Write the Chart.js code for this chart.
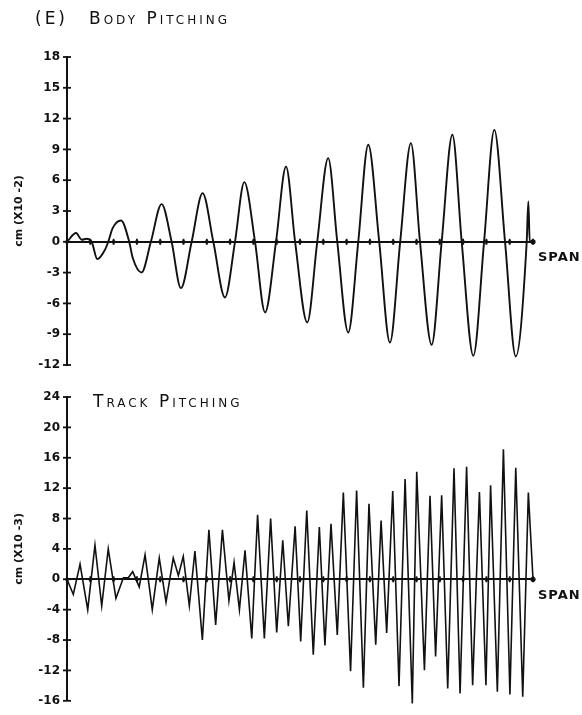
<!DOCTYPE html>
<html>
<head>
<meta charset="utf-8">
<script src="https://cdn.jsdelivr.net/npm/chart.js@4.4.1/dist/chart.umd.min.js"></script>
<style>
  html, body { margin: 0; padding: 0; background: #fff; }
  #wrap { position: relative; width: 582px; height: 715px; }
  canvas { position: absolute; left: 0; }
  #bodyChart { top: 0; }
  #trackChart { top: 380px; }
</style>
</head>
<body>
<div id="wrap">
  <canvas id="bodyChart" width="582" height="380"></canvas>
  <canvas id="trackChart" width="582" height="335"></canvas>
</div>
<script>
// span positions (x axis, 0..20) and tick values
const spanTicks = [0,1,2,3,4,5,6,7,8,9,10,11,12,13,14,15,16,17,18,19,20];
const bodyTicks = [18,15,12,9,6,3,0,-3,-6,-9,-12];
const trackTicks = [24,20,16,12,8,4,0,-4,-8,-12,-16];

// body pitching, cm (x10^-2)
const bodyX = [0,0.39,0.63,0.85,1.06,1.30,1.63,1.77,1.96,2.32,2.67,2.82,3.2,3.6,4.06,4.49,4.89,5.35,5.82,6.28,6.78,7.21,7.61,8.07,8.5,8.97,9.4,9.79,10.31,10.74,11.21,11.6,12.07,12.5,12.93,13.4,13.86,14.3,14.76,15.15,15.65,16.08,16.54,16.94,17.44,17.9,18.34,18.8,19.26,19.73,19.8,19.86,20];
const bodyY = [0,0.85,0.2,0.3,0,-1.69,-0.78,0,1.33,2.08,0,-1.56,-2.99,0,3.67,0,-4.51,0,4.74,0,-5.42,0,5.81,0,-6.88,0,7.33,0,-7.86,0,8.15,0,-8.83,0,9.45,0,-9.81,0,9.61,0,-10.03,0,10.42,0,-11.1,0,10.9,0,-11.17,0,3.93,0,0];

// track pitching, cm (x10^-3)
const trackX = [0,0.27,0.56,0.89,1.2,1.49,1.77,2.1,2.42,2.63,2.82,3.1,3.35,3.66,3.96,4.25,4.56,4.78,4.99,5.25,5.49,5.81,6.09,6.38,6.67,6.95,7.17,7.4,7.64,7.93,8.18,8.47,8.74,9.0,9.26,9.5,9.79,10.03,10.29,10.57,10.83,11.07,11.33,11.6,11.86,12.17,12.43,12.72,12.96,13.25,13.48,13.72,13.98,14.25,14.51,14.82,15.01,15.34,15.58,15.82,16.08,16.34,16.61,16.87,17.15,17.41,17.7,17.98,18.18,18.47,18.73,19.01,19.26,19.56,19.8,20];
const trackY = [0,-2,2,-4,4.5,-3.5,4,-2.5,0.2,0.2,1,-1,3.2,-4,2.8,-3,2.8,0.5,3,-3.5,3.7,-8,6.5,-6,6.5,-2.8,2.2,-4,3.8,-7.8,8.5,-7.8,8,-7,5.14,-6.19,6.97,-8.19,9.06,-9.93,6.88,-8.71,7.32,-7.32,11.41,-12.11,11.68,-14.29,9.93,-8.63,7.75,-7.06,11.63,-14.07,13.2,-16.34,14.16,-11.98,10.98,-10.15,11.07,-14.38,14.6,-15.03,14.81,-13.94,11.5,-13.94,12.37,-14.81,17.12,-15.16,14.68,-15.47,11.41,0];

const ink = '#111';
const font = '"DejaVu Sans", sans-serif';

// crosses on the axes, span label and the small-caps heading
const decor = {
  id: 'decor',
  afterDraw(chart, args, opts) {
    const { ctx, chartArea } = chart;
    const xs = chart.scales.x, ys = chart.scales.y;
    const y0 = ys.getPixelForValue(0);
    ctx.save();
    ctx.strokeStyle = ink;
    ctx.fillStyle = ink;
    ctx.lineWidth = 1.8;
    ys.ticks.forEach(t => {
      const py = ys.getPixelForValue(t.value);
      ctx.beginPath();
      ctx.moveTo(chartArea.left - 4, py);
      ctx.lineTo(chartArea.left + 4, py);
      ctx.stroke();
    });
    xs.ticks.forEach(t => {
      const px = xs.getPixelForValue(t.value);
      ctx.beginPath();
      ctx.moveTo(px, y0 - 3);
      ctx.lineTo(px, y0 + 3);
      ctx.stroke();
      ctx.beginPath();
      ctx.arc(px, y0, t.value === 20 ? 2.6 : 1.9, 0, Math.PI * 2);
      ctx.fill();
    });

    ctx.textBaseline = 'middle';
    ctx.textAlign = 'left';
    ctx.font = 'bold 13px ' + font;
    ctx.letterSpacing = '1px';
    ctx.fillText('SPAN', chartArea.right + 5, y0 + 16);

    ctx.font = 'small-caps 17px ' + font;
    ctx.fontVariantCaps = 'small-caps';
    ctx.letterSpacing = '3px';
    if (opts.prefix) ctx.fillText(opts.prefix, opts.prefixX, opts.y);
    ctx.fillText(opts.text, opts.x, opts.y);
    ctx.restore();
  }
};

function makeChart(id, xs, ys, ticks, unit, pad, heading, smooth) {
  return new Chart(document.getElementById(id), {
    type: 'line',
    data: {
      datasets: [{
        data: xs.map((x, i) => ({ x: x, y: ys[i] })),
        borderColor: ink,
        borderWidth: smooth ? 1.9 : 1.6,
        pointRadius: 0,
        fill: false,
        tension: smooth ? 0.4 : 0,
        cubicInterpolationMode: smooth ? 'monotone' : 'default',
        clip: 4
      }]
    },
    options: {
      responsive: false,
      animation: false,
      layout: { padding: pad },
      plugins: {
        legend: { display: false },
        tooltip: { enabled: false },
        decor: heading
      },
      scales: {
        x: {
          type: 'linear',
          min: 0,
          max: 20,
          position: { y: 0 },
          afterBuildTicks: s => { s.ticks = spanTicks.map(v => ({ value: v })); },
          afterFit: s => { s.height = 0; },
          ticks: { display: false },
          grid: { display: false, drawTicks: false },
          border: { display: true, color: ink, width: 2 }
        },
        y: {
          min: ticks[ticks.length - 1],
          max: ticks[0],
          afterBuildTicks: s => { s.ticks = ticks.map(v => ({ value: v })); },
          afterFit: s => { s.width = 67; },
          ticks: {
            color: ink,
            padding: 7,
            font: { family: font, size: 12, weight: 'bold' }
          },
          grid: { display: false, drawTicks: false },
          border: { display: true, color: ink, width: 2 },
          title: {
            display: true,
            text: unit,
            color: ink,
            padding: { top: 13, bottom: 0 },
            font: { family: font, size: 11, weight: 'bold' }
          }
        }
      }
    },
    plugins: [decor]
  });
}

makeChart('bodyChart', bodyX, bodyY, bodyTicks, 'cm (X10 -2)',
  { top: 57, bottom: 15, left: 0, right: 49 },
  { prefix: '(E)', prefixX: 35, text: 'Body Pitching', x: 89, y: 20 }, true);

makeChart('trackChart', trackX, trackY, trackTicks, 'cm (X10 -3)',
  { top: 17, bottom: 12, left: 0, right: 49 },
  { text: 'Track Pitching', x: 93, y: 23 }, false);
</script>
</body>
</html>
